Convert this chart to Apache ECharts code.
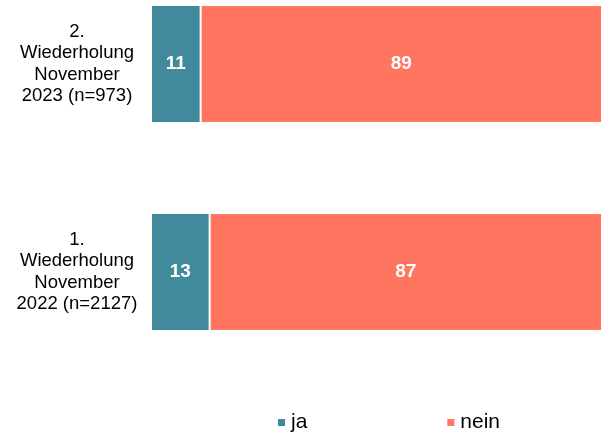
<!DOCTYPE html>
<html>
<head>
<meta charset="utf-8">
<script src="https://cdn.jsdelivr.net/npm/echarts@6/dist/echarts.min.js"></script>
<style>
html,body{margin:0;padding:0;background:#fff;}
#main{width:601px;height:433px;}
</style>
</head>
<body>
<div id="main"></div>
<script>
var categories = ['1.\nWiederholung\nNovember\n2022 (n=2127)', '2.\nWiederholung\nNovember\n2023 (n=973)'];
var jaValues = [13, 11];
var neinValues = [87, 89];
var seriesNames = ['ja', 'nein'];

var chart = echarts.init(document.getElementById('main'));
var labelStyle = {
    show: true,
    color: '#fff',
    fontWeight: 'bold',
    fontSize: 19,
    fontFamily: 'Liberation Sans, Arial, sans-serif'
};
var option = {
    animation: false,
    textStyle: { fontFamily: 'Liberation Sans, Arial, sans-serif' },
    grid: { left: 151, right: -1, top: -40, bottom: 57, outerBoundsMode: 'none', containLabel: false },
    legend: {
        data: seriesNames,
        top: 407,
        left: 271,
        itemWidth: 9,
        itemHeight: 9,
        itemGap: 138,
        icon: 'rect',
        textStyle: { fontSize: 21, color: '#000', fontFamily: 'Liberation Sans, Arial, sans-serif' }
    },
    xAxis: {
        type: 'value',
        min: 0,
        max: 100,
        show: false
    },
    yAxis: {
        type: 'category',
        data: categories,
        axisLine: { show: false },
        axisTick: { show: false },
        axisLabel: {
            align: 'center',
            verticalAlign: 'middle',
            margin: 74,
            fontSize: 18.5,
            lineHeight: 21.5,
            padding: [5, 0, 0, 0],
            color: '#000'
        }
    },
    series: [
        {
            name: 'ja',
            type: 'bar',
            stack: 'all',
            barWidth: 118,
            data: jaValues,
            itemStyle: { color: '#418A9B', borderColor: '#fff', borderWidth: 1 },
            label: labelStyle
        },
        {
            name: 'nein',
            type: 'bar',
            stack: 'all',
            barWidth: 118,
            data: neinValues,
            itemStyle: { color: '#FF7560', borderColor: '#fff', borderWidth: 1 },
            label: labelStyle
        }
    ]
};
chart.setOption(option);
</script>
</body>
</html>
